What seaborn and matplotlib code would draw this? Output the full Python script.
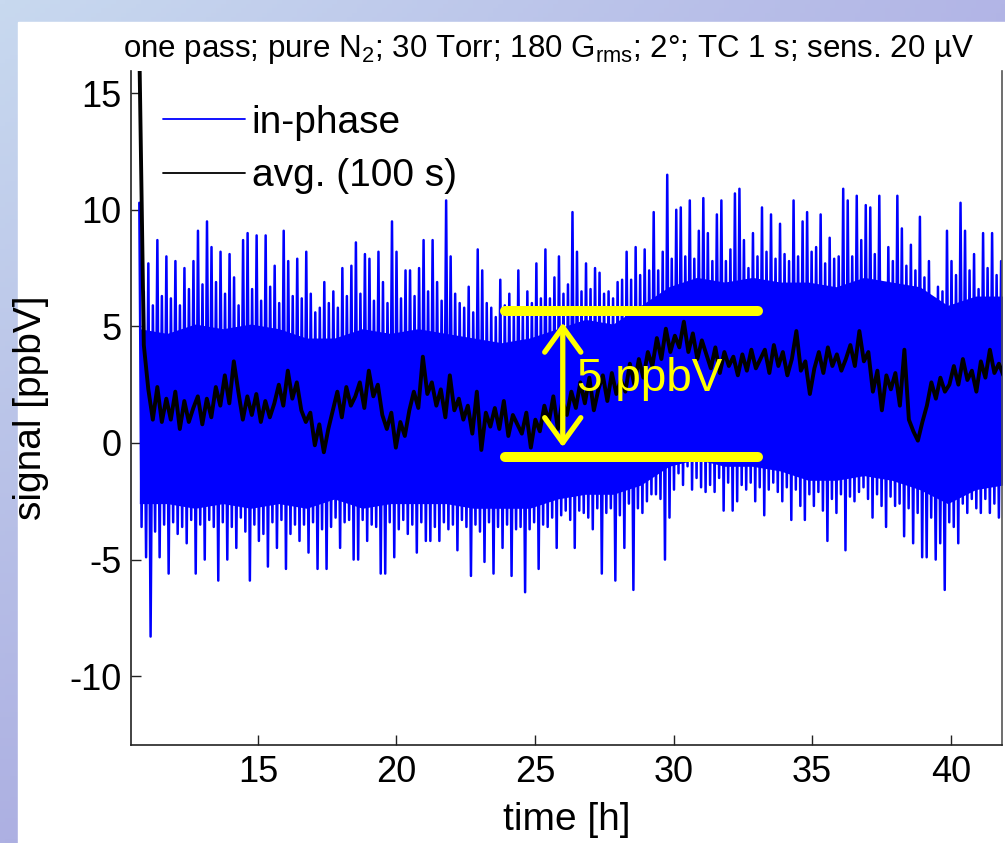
import numpy as np
import pandas as pd
import matplotlib
matplotlib.use("Agg")
import matplotlib.pyplot as plt
import seaborn as sns
from matplotlib.patches import Rectangle, ArrowStyle

# ---------------- data ----------------
t_start_h = 10.72
t_end_h = 41.9

# upper excursions of the in-phase trace (ppbV), ~6 per hour
in_phase_peaks = [
    10.3, 6.5, 7.7, 5.9, 8.7, 6.3,   8.0, 6.2, 7.8, 5.9, 7.5, 6.6,
    7.8, 9.1, 6.8, 9.5, 8.4, 6.9,    8.2, 6.4, 8.1, 7.1, 5.9, 8.7,
    9.0, 6.6, 8.9, 6.1, 8.9, 6.7,    7.6, 6.0, 9.1, 7.8, 6.3, 7.9,
    6.2, 8.2, 6.4, 5.6, 5.8, 6.9,    6.0, 6.5, 5.8, 7.5, 6.3, 7.6,
    8.6, 6.4, 8.1, 7.9, 6.1, 8.2,    6.9, 6.0, 9.5, 8.2, 6.2, 7.4,
    7.4, 6.3, 7.5, 8.7, 6.5, 8.7,    6.9, 6.1, 10.4, 8.0, 6.4, 6.0,
    5.8, 6.7, 5.6, 8.3, 7.4, 6.0,    5.8, 5.4, 7.0, 5.9, 6.4, 5.6,
    7.4, 5.7, 6.5, 6.0, 7.7, 6.2,    8.3, 6.2, 7.1, 8.0, 6.4, 6.8,
    9.9, 8.2, 6.5, 7.7, 6.6, 7.5,    7.3, 6.4, 6.5, 6.2, 6.9, 7.0,
    8.2, 7.0, 8.4, 7.2, 8.3, 7.4,    9.9, 7.4, 8.2, 11.5, 7.9, 10.0,
    10.1, 8.0, 10.4, 7.9, 9.1, 10.5, 9.0, 7.8, 9.8, 10.4, 7.8, 8.3,
    10.7, 10.9, 8.7, 7.5, 9.0, 8.0, 10.1, 8.2, 9.8, 7.9, 9.4, 8.1,
    7.8, 10.4, 8.0, 9.5, 9.9, 8.2,   8.4, 9.8, 7.7, 8.8, 7.9, 8.0,
    10.9, 10.4, 8.0, 10.6, 8.7, 10.2, 10.1, 8.1, 10.6, 6.7, 8.4, 7.8,
    10.6, 9.2, 7.6, 8.5, 7.4, 9.7,   7.1, 7.8, 5.7, 6.7, 6.5, 9.1,
    7.8, 7.2, 10.3, 9.1, 7.4, 8.1,   6.6, 9.0, 7.5, 9.0, 7.2, 7.8,
]

# lower excursions of the in-phase trace (ppbV)
in_phase_troughs = [
    -3.6, -4.9, -8.3, -3.8, -4.9, -3.5,  -5.6, -3.4, -3.9, -3.6, -4.3, -3.3,
    -5.6, -3.5, -5.0, -3.3, -3.6, -5.9,  -3.4, -5.0, -3.6, -4.5, -3.2, -3.8,
    -5.9, -3.5, -4.2, -3.9, -5.3, -3.4,  -4.5, -3.3, -5.4, -3.9, -3.5, -4.2,
    -3.5, -4.7, -3.4, -5.4, -3.7, -5.4,  -3.6, -3.2, -4.5, -3.4, -3.3, -5.0,
    -5.0, -3.3, -4.2, -3.5, -3.6, -5.6,  -5.6, -3.4, -4.9, -3.7, -3.3, -3.9,
    -3.5, -4.7, -3.4, -4.2, -4.2, -3.6,  -4.2, -3.4, -3.7, -3.5, -4.6, -3.3,
    -3.6, -5.7, -3.5, -3.8, -5.1, -3.4,  -5.6, -3.6, -4.5, -3.5, -5.7, -3.7,
    -3.6, -6.4, -3.7, -3.4, -5.4, -3.5,  -3.6, -3.2, -4.5, -3.1, -2.9, -3.3,
    -4.5, -2.9, -3.0, -3.2, -3.7, -2.8,  -5.6, -3.0, -2.8, -5.9, -3.1, -4.5,
    -2.6, -6.3, -2.8, -3.0, -2.5, -2.2,  -2.2, -2.4, -5.0, -3.2, -2.0, -1.3,
    -1.8, -1.0, -2.0, -1.5, -1.9, -2.1,  -1.8, -2.1, -1.5, -2.9, -1.7, -2.9,
    -2.5, -1.8, -2.0, -1.7, -2.5, -1.9,  -3.1, -2.0, -1.7, -2.1, -2.5, -1.9,
    -3.3, -2.0, -2.7, -3.3, -2.2, -2.7,  -2.1, -2.9, -4.2, -2.4, -3.0, -2.2,
    -4.6, -2.3, -2.5, -2.1, -1.9, -2.4,  -3.2, -2.2, -2.7, -3.6, -2.3, -2.7,
    -2.6, -4.0, -2.8, -4.3, -3.0, -4.9,  -4.9, -3.2, -5.0, -4.3, -6.3, -3.4,
    -3.6, -4.3, -2.6, -3.0, -2.4, -2.8,  -3.0, -2.4, -3.0, -2.6, -3.2, -2.5,
]

# dense (solid) part of the in-phase band, one value per hour
core_upper = [4.9, 4.7, 5.1, 4.9, 5.1, 4.9, 4.5, 4.5, 4.9, 4.7, 4.9, 4.7, 4.5, 4.3, 4.5, 4.9,
              5.3, 5.1, 5.9, 6.7, 7.1, 6.9, 7.1, 6.9, 6.9, 6.7, 7.1, 6.9, 6.7, 5.9, 6.3, 6.3]
core_lower = [-2.6, -2.6, -2.8, -2.6, -2.8, -2.6, -2.8, -2.4, -2.8, -2.6, -2.6, -2.6, -2.8, -2.8, -2.8, -2.4,
              -2.2, -2.2, -1.8, -1.0, -0.7, -1.0, -1.0, -1.2, -1.6, -1.6, -1.4, -1.6, -2.0, -2.6, -2.0, -1.8]

# 100 s running average (ppbV)
avg_100s = [
    17.0,
    4.2, 2.3, 1.0, 2.4, 0.9, 1.9,   1.0, 2.2, 0.6, 1.8, 0.9, 1.5,
    2.0, 0.8, 1.9, 1.1, 2.4, 1.6,   2.9, 1.7, 3.5, 2.2, 1.0, 2.0,
    1.2, 2.1, 0.9, 1.8, 1.1, 1.7,   2.5, 1.6, 3.1, 1.9, 2.6, 1.4,
    0.9, 1.3, -0.1, 0.8, -0.4, 0.6, 1.4, 2.2, 1.1, 2.4, 1.6, 2.0,
    2.6, 1.5, 3.1, 2.0, 2.5, 1.2,   0.6, 1.3, -0.2, 0.9, 0.3, 1.4,
    2.2, 1.5, 3.7, 2.1, 2.6, 1.6,   2.3, 1.1, 2.9, 1.4, 1.9, 1.0,
    1.6, 0.4, 2.2, -0.3, 1.3, 0.7,  1.5, 0.6, 1.8, 0.3, 1.2, 0.8,
    0.4, 1.3, -0.2, 1.0, 0.5, 1.6,  0.9, 2.0, 0.6, 1.8, 1.2, 2.2,
    1.5, 2.6, 1.7, 2.8, 1.4, 2.3,   2.9, 1.8, 3.0, 2.1, 2.7, 2.2,
    3.4, 2.5, 3.6, 2.8, 3.9, 3.3,   4.5, 3.6, 4.9, 3.9, 4.6, 4.1,
    5.2, 3.9, 4.7, 3.6, 4.4, 3.8,   3.2, 4.1, 3.0, 3.9, 3.3, 3.7,
    2.9, 3.8, 3.1, 4.0, 3.2, 3.6,   4.0, 3.0, 4.2, 3.3, 3.9, 2.9,
    3.6, 4.8, 3.1, 3.5, 2.1, 3.2,   3.9, 3.0, 4.1, 3.3, 3.8, 3.1,
    3.6, 4.2, 3.3, 4.8, 3.5, 3.9,   2.2, 3.1, 1.4, 2.9, 2.3, 3.0,
    1.6, 4.0, 1.0, 0.5, 0.1, 0.9,   1.6, 2.6, 1.9, 2.8, 2.2, 2.5,
    3.3, 2.5, 3.6, 2.7, 3.1, 2.2,   3.5, 2.8, 4.0, 3.0, 3.4, 2.9,
]

x_ticks = [15, 20, 25, 30, 35, 40]
y_ticks = [-10, -5, 0, 5, 10, 15]
series_labels = ["in-phase", "avg. (100 s)"]
title_text = "one pass; pure N$_2$; 30 Torr; 180 G$_{\\rm rms}$; 2°; TC 1 s; sens. 20 µV"
x_label = "time [h]"
y_label = "signal [ppbV]"
span_label = "5 ppbV"
span_upper, span_lower = 5.64, -0.60
span_t = (23.92, 33.06)
arrow_t, arrow_top, arrow_bottom = 26.0, 5.16, -0.18

# ---------------- build tables ----------------
blue_y = []
for hi, lo in zip(in_phase_peaks, in_phase_troughs):
    blue_y += [hi, lo]
df_blue = pd.DataFrame({"t": np.linspace(t_start_h, t_end_h, len(blue_y)), "signal": blue_y})
df_avg = pd.DataFrame({"t": np.linspace(t_start_h, t_end_h, len(avg_100s)), "signal": avg_100s})
t_core = np.linspace(t_start_h, t_end_h, len(core_upper))

# ---------------- style ----------------
sns.set_theme(style="white")
plt.rcParams["font.family"] = ["Liberation Sans", "DejaVu Sans"]
plt.rcParams["mathtext.fontset"] = "custom"
plt.rcParams["mathtext.rm"] = "Liberation Sans"
plt.rcParams["mathtext.it"] = "Liberation Sans:italic"
plt.rcParams["mathtext.bf"] = "Liberation Sans:bold"
plt.rcParams["axes.unicode_minus"] = False
plt.rcParams["text.color"] = "black"
plt.rcParams["axes.labelcolor"] = "black"

W, H = 1005, 843
fig = plt.figure(figsize=(W / 100, H / 100), dpi=100)

# slide background gradient + white page
bg = fig.add_axes([0, 0, 1, 1], zorder=-10)
tl = np.array([0xc8, 0xd9, 0xef]) / 255
tr = np.array([0xb2, 0xb5, 0xe6]) / 255
bl = np.array([0xad, 0xb0, 0xe2]) / 255
br = np.array([0xa8, 0xa8, 0xde]) / 255
u = np.linspace(0, 1, 200)[None, :, None]
v = np.linspace(0, 1, 200)[:, None, None]
grad = tl * (1 - u) * (1 - v) + tr * u * (1 - v) + bl * (1 - u) * v + br * u * v
bg.imshow(grad, aspect="auto", extent=[0, 1, 0, 1], origin="upper")
bg.add_patch(Rectangle((18 / W, 0), 1 - 18 / W, 1 - 22 / H, color="white", transform=bg.transAxes))
bg.set_xlim(0, 1); bg.set_ylim(0, 1)
bg.axis("off")

ax = fig.add_axes([131 / W, 1 - 745 / H, (1002 - 131) / W, (745 - 71) / H])
ax.set_facecolor("white")

ax.fill_between(t_core, core_lower, core_upper, color="#0000ff", lw=0, zorder=2)
sns.lineplot(data=df_blue, x="t", y="signal", ax=ax, color="#0000ff", lw=1.8,
             estimator=None, sort=False, label=series_labels[0], zorder=2)
sns.lineplot(data=df_avg, x="t", y="signal", ax=ax, color="black", lw=2.8,
             estimator=None, sort=False, label=series_labels[1], zorder=3)

# yellow 5 ppbV span annotation
for yv in (span_upper, span_lower):
    ax.plot(span_t, [yv, yv], color="#ffff00", lw=7.2, solid_capstyle="round", zorder=5)
ax.annotate("", xy=(arrow_t, arrow_top), xytext=(arrow_t, arrow_bottom),
            arrowprops=dict(arrowstyle=ArrowStyle("<->", head_length=0.9, head_width=0.65),
                            color="#ffff00", lw=3.8, shrinkA=0, shrinkB=0, mutation_scale=20,
                            capstyle="round", joinstyle="round"),
            zorder=5)
ax.text(26.5, 2.25, span_label, color="#ffff00", fontsize=33, ha="left", va="baseline", zorder=6)

ax.set_xlim(10.42, 41.85)
ax.set_ylim(-12.95, 15.95)
ax.set_xticks(x_ticks)
ax.set_yticks(y_ticks)
ax.tick_params(axis="both", direction="in", length=7, width=1.0, color="#222222",
               labelsize=26, labelcolor="black", pad=7)
ax.tick_params(axis="x", bottom=True, top=False)
ax.tick_params(axis="y", left=True, right=False)
for s in ("left", "bottom"):
    ax.spines[s].set_color("#222222"); ax.spines[s].set_linewidth(1.2)
ax.spines["right"].set_color("#555555"); ax.spines["right"].set_linewidth(1.2)
ax.spines["top"].set_visible(False)

ax.set_xlabel(x_label, fontsize=28, color="black")
ax.set_ylabel(y_label, fontsize=28, color="black")
ax.xaxis.set_label_coords(0.5, -0.085)
ax.yaxis.set_label_coords(-0.094, 0.5)

leg = ax.legend(loc="upper left", bbox_to_anchor=(0.0367, 0.95), frameon=False, fontsize=28,
                handlelength=2.1, handletextpad=0.18, labelspacing=0.45, borderpad=0, borderaxespad=0)
for line in leg.get_lines():
    line.set_linewidth(1.3)
for txt in leg.get_texts():
    txt.set_color("black")

fig.text(548 / W, 1 - 57 / H, title_text, ha="center", va="baseline", fontsize=22.5, color="black")

fig.savefig("out.png", dpi=100)
